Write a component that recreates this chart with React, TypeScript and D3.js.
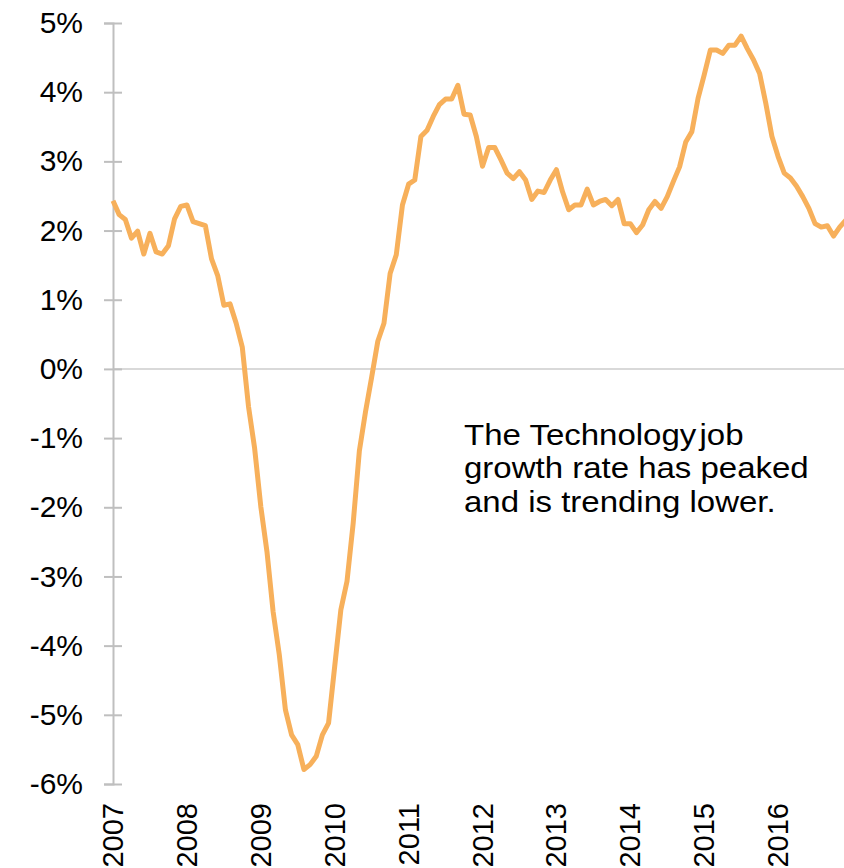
import React, { useEffect, useRef } from "react";
import * as d3 from "d3";

// monthly job growth rate (%), Jan 2007 .. Dec 2016
const years = [2007, 2008, 2009, 2010, 2011, 2012, 2013, 2014, 2015, 2016];
const growth2007 = [2.43, 2.23, 2.16, 1.89, 1.99, 1.66, 1.96, 1.69, 1.66, 1.78, 2.17, 2.35];
const growth2008 = [2.37, 2.13, 2.1, 2.07, 1.59, 1.35, 0.92, 0.94, 0.66, 0.31, -0.54, -1.15];
const growth2009 = [-1.99, -2.64, -3.51, -4.13, -4.93, -5.29, -5.43, -5.79, -5.72, -5.6, -5.29, -5.12];
const growth2010 = [-4.3, -3.48, -3.07, -2.23, -1.19, -0.62, -0.12, 0.4, 0.66, 1.38, 1.65, 2.37];
const growth2011 = [2.67, 2.73, 3.36, 3.45, 3.65, 3.82, 3.9, 3.9, 4.1, 3.68, 3.67, 3.36];
const growth2012 = [2.93, 3.2, 3.2, 3.02, 2.83, 2.75, 2.85, 2.73, 2.45, 2.57, 2.55, 2.73];
const growth2013 = [2.88, 2.56, 2.3, 2.37, 2.37, 2.6, 2.37, 2.42, 2.45, 2.36, 2.45, 2.1];
const growth2014 = [2.1, 1.97, 2.08, 2.3, 2.42, 2.32, 2.49, 2.71, 2.92, 3.28, 3.43, 3.91];
const growth2015 = [4.25, 4.61, 4.61, 4.56, 4.68, 4.68, 4.81, 4.63, 4.47, 4.27, 3.84, 3.36];
const growth2016 = [3.07, 2.83, 2.76, 2.64, 2.49, 2.32, 2.1, 2.05, 2.07, 1.92, 2.05, 2.15];
const yTicks = [5, 4, 3, 2, 1, 0, -1, -2, -3, -4, -5, -6];
// each line of the note, split where the source squeezes the gap
const note = [
  ["The Technology", "job"],
  ["growth rate has peaked"],
  ["and is trending lower."],
];

const WIDTH = 844;
const HEIGHT = 868;

export default function App() {
  const ref = useRef<SVGSVGElement>(null);

  useEffect(() => {
    const svg = d3.select(ref.current);
    svg.selectAll("*").remove();

    const series = [
      growth2007, growth2008, growth2009, growth2010, growth2011,
      growth2012, growth2013, growth2014, growth2015, growth2016,
    ];
    const data: [number, number][] = [];
    series.forEach((vals, i) => {
      vals.forEach((v, m) => data.push([years[i] + m / 12, v]));
    });

    const x = d3.scaleLinear().domain([2007, 2017]).range([113, 852]);
    const y = d3.scaleLinear().domain([-6, 5]).range([784, 23]);

    const font = "'Liberation Sans', Arial, sans-serif";

    // zero line
    svg
      .append("line")
      .attr("x1", x(2007))
      .attr("x2", WIDTH)
      .attr("y1", y(0))
      .attr("y2", y(0))
      .attr("stroke", "#d9d9d9")
      .attr("stroke-width", 2);

    // y axis
    const yAxis = svg
      .append("g")
      .attr("transform", "translate(" + x(2007) + ",0)")
      .call(
        d3
          .axisLeft(y)
          .tickValues(yTicks)
          .tickSize(9)
          .tickPadding(21)
          .tickFormat((d) => d + "%")
      );
    yAxis.select(".domain").attr("stroke", "#bfbfbf").attr("stroke-width", 2);
    yAxis
      .selectAll(".tick line")
      .attr("stroke", "#bfbfbf")
      .attr("stroke-width", 2)
      .attr("x1", 9);
    yAxis
      .selectAll(".tick text")
      .attr("fill", "#000")
      .style("font-family", font)
      .style("font-size", "30px");

    // x labels (rotated)
    svg
      .append("g")
      .selectAll("text")
      .data(years)
      .enter()
      .append("text")
      .attr(
        "transform",
        (d) => "translate(" + (x(d) + 10) + ",803)rotate(-90)"
      )
      .attr("text-anchor", "end")
      .style("font-family", font)
      .style("font-size", "29px")
      .attr("fill", "#000")
      .text((d) => d);

    // line
    const line = d3
      .line<[number, number]>()
      .x((d) => x(d[0]))
      .y((d) => y(d[1]));

    svg
      .append("path")
      .datum(data)
      .attr("d", line)
      .attr("fill", "none")
      .attr("stroke", "#f7b05b")
      .attr("stroke-width", 5)
      .attr("stroke-linejoin", "round");

    // annotation (text in the source is a bit wider than the font)
    const noteText = svg
      .append("g")
      .attr("transform", "translate(464,0)scale(1.1,1)")
      .selectAll("text")
      .data(note)
      .enter()
      .append("text")
      .attr("x", 0)
      .attr("y", (d, i) => 445 + i * 33.3)
      .style("font-family", font)
      .style("font-size", "30px")
      .attr("fill", "#000");

    noteText
      .selectAll("tspan")
      .data((d) => d)
      .enter()
      .append("tspan")
      .attr("dx", (d, i) => (i === 0 ? 0 : 3))
      .text((d) => d);
  }, []);

  return (
    <svg
      ref={ref}
      width={WIDTH}
      height={HEIGHT}
      style={{ position: "absolute", left: 0, top: 0, background: "#fff" }}
    />
  );
}
